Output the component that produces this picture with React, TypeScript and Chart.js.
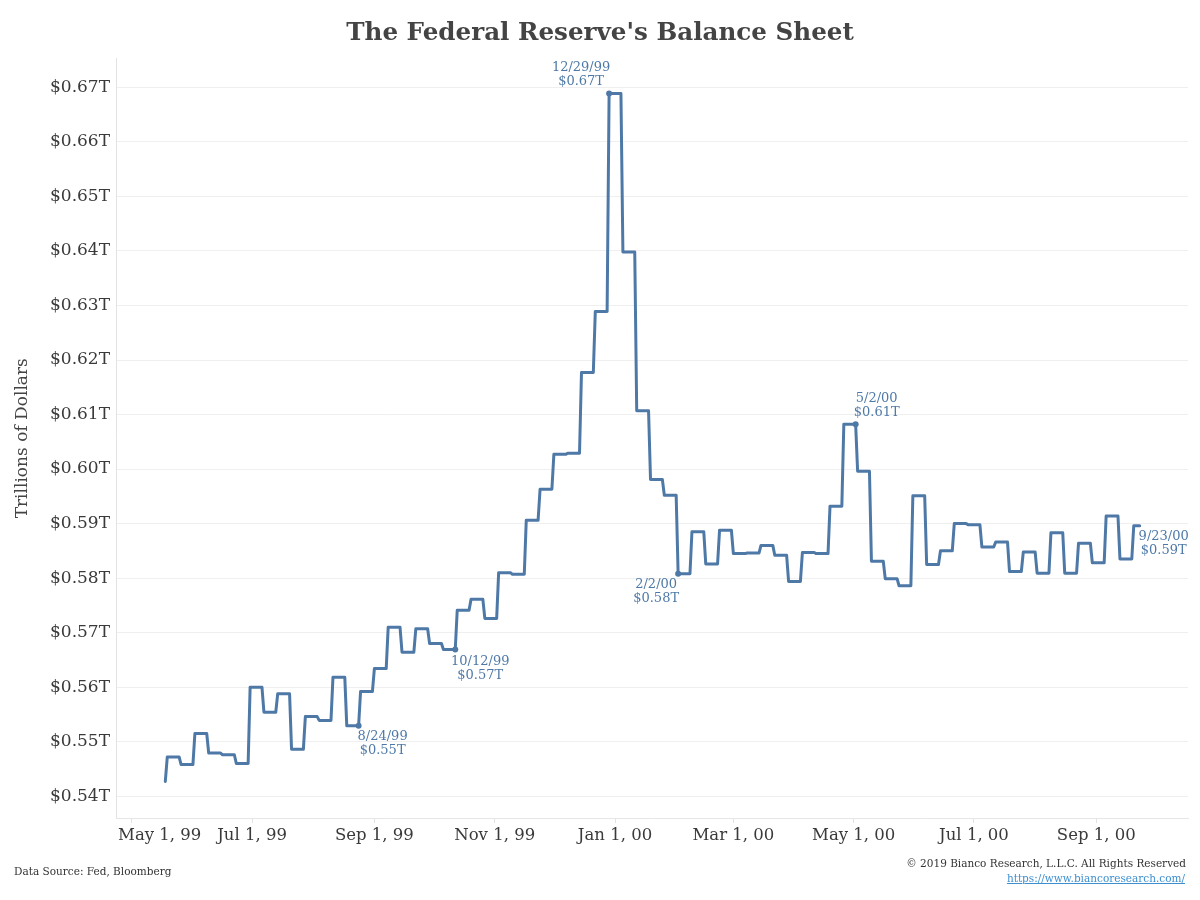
import React, { useEffect, useRef } from "react";
import { Chart, registerables } from "chart.js";

Chart.register(...registerables);

// ---- Data (weekly Fed balance sheet levels, trillions of dollars) ----
// first entry is a single day (Tue), then each value holds Wed..Tue
const weekStarts = [
  "1999-05-18",
  "1999-05-19", "1999-05-26",
  "1999-06-02", "1999-06-09", "1999-06-16", "1999-06-23", "1999-06-30",
  "1999-07-07", "1999-07-14", "1999-07-21", "1999-07-28",
  "1999-08-04", "1999-08-11", "1999-08-18", "1999-08-25",
  "1999-09-01", "1999-09-08", "1999-09-15", "1999-09-22", "1999-09-29",
  "1999-10-06", "1999-10-13", "1999-10-20", "1999-10-27",
  "1999-11-03", "1999-11-10", "1999-11-17", "1999-11-24",
  "1999-12-01", "1999-12-08", "1999-12-15", "1999-12-22", "1999-12-29",
  "2000-01-05", "2000-01-12", "2000-01-19", "2000-01-26",
  "2000-02-02", "2000-02-09", "2000-02-16", "2000-02-23",
  "2000-03-01", "2000-03-08", "2000-03-15", "2000-03-22", "2000-03-29",
  "2000-04-05", "2000-04-12", "2000-04-19", "2000-04-26",
  "2000-05-03", "2000-05-10", "2000-05-17", "2000-05-24", "2000-05-31",
  "2000-06-07", "2000-06-14", "2000-06-21", "2000-06-28",
  "2000-07-05", "2000-07-12", "2000-07-19", "2000-07-26",
  "2000-08-02", "2000-08-09", "2000-08-16", "2000-08-23", "2000-08-30",
  "2000-09-06", "2000-09-13", "2000-09-20",
];
const balance = [
  0.5427,
  0.5472, 0.5458,
  0.5515, 0.5479, 0.5476, 0.5460, 0.5600,
  0.5554, 0.5588, 0.5486, 0.5546,
  0.5539, 0.5618, 0.5529, 0.5592,
  0.5634, 0.5710, 0.5664, 0.5707, 0.5680,
  0.5669, 0.5741, 0.5761, 0.5726,
  0.5810, 0.5807, 0.5906, 0.5963,
  0.6027, 0.6029, 0.6177, 0.6289, 0.6689,
  0.6398, 0.6107, 0.5981, 0.5952,
  0.5808, 0.5885, 0.5826, 0.5888,
  0.5845, 0.5846, 0.5860, 0.5842, 0.5794,
  0.5847, 0.5845, 0.5932, 0.6082,
  0.5996, 0.5831, 0.5799, 0.5786, 0.5951,
  0.5825, 0.5850, 0.5900, 0.5898,
  0.5857, 0.5866, 0.5812, 0.5848,
  0.5809, 0.5883, 0.5809, 0.5864, 0.5828,
  0.5914, 0.5835, 0.5896,
];
const lastDate = "2000-09-23";

const xTickDates = [
  "1999-05-01", "1999-07-01", "1999-09-01", "1999-11-01", "2000-01-01",
  "2000-03-01", "2000-05-01", "2000-07-01", "2000-09-01",
];
const xTickLabels = [
  "May 1, 99", "Jul 1, 99", "Sep 1, 99", "Nov 1, 99", "Jan 1, 00",
  "Mar 1, 00", "May 1, 00", "Jul 1, 00", "Sep 1, 00",
];
const yTickValues = [0.54, 0.55, 0.56, 0.57, 0.58, 0.59, 0.6, 0.61, 0.62, 0.63, 0.64, 0.65, 0.66, 0.67];

const annotationDates = ["1999-08-24", "1999-10-12", "1999-12-29", "2000-02-02", "2000-05-02", "2000-09-23"];
const annotationDateLabels = ["8/24/99", "10/12/99", "12/29/99", "2/2/00", "5/2/00", "9/23/00"];

// ---- Styling / layout (not data) ----
const annotationLayout = [
  { dx: 24, dy: [11, 25], dot: true },
  { dx: 25, dy: [12, 26], dot: true },
  { dx: -28, dy: [-26, -12], dot: true },
  { dx: -22, dy: [11, 25], dot: true },
  { dx: 21, dy: [-26, -12], dot: true },
  { dx: 24, dy: [11, 25], dot: false },
];
const FONT = "'DejaVu Serif', Georgia, serif";
const LINE_COLOR = "#4e79a7";

const DAY = 86400000;
const EPOCH = Date.UTC(2000, 0, 1);
function dayNum(s: string): number {
  const [y, m, d] = s.split("-").map(Number);
  return (Date.UTC(y, m - 1, d) - EPOCH) / DAY;
}

const starts = weekStarts.map(dayNum);
const lastDay = dayNum(lastDate);

function buildLinePoints() {
  const pts: { x: number; y: number }[] = [];
  starts.forEach((s, i) => {
    const end = i < starts.length - 1 ? starts[i + 1] - 1 : lastDay;
    pts.push({ x: s, y: balance[i] });
    if (end > s) pts.push({ x: end, y: balance[i] });
  });
  return pts;
}

function valueAt(day: number): number {
  let idx = 0;
  for (let i = 0; i < starts.length; i++) if (starts[i] <= day) idx = i;
  return balance[idx];
}

const annotationPoints = annotationDates.map((d) => ({ x: dayNum(d), y: valueAt(dayNum(d)) }));

const labelPlugin = {
  id: "customLabels",
  afterDatasetsDraw(chart: any) {
    const ctx = chart.ctx;
    const xs = chart.scales.x;
    const ys = chart.scales.y;
    const area = chart.chartArea;
    ctx.save();
    // x-axis labels
    ctx.font = `16.5px ${FONT}`;
    ctx.fillStyle = "#3a3a3a";
    ctx.textBaseline = "middle";
    ctx.textAlign = "left";
    xTickDates.forEach((d, i) => {
      const px = xs.getPixelForValue(dayNum(d));
      const w = ctx.measureText(xTickLabels[i]).width;
      let left = px - w / 2;
      if (left < area.left + 2) left = area.left + 2;
      ctx.fillText(xTickLabels[i], left, area.bottom + 18);
    });
    // annotations
    ctx.font = `13px ${FONT}`;
    ctx.fillStyle = "#4e79a7";
    ctx.textAlign = "center";
    annotationPoints.forEach((p, i) => {
      const px = xs.getPixelForValue(p.x);
      const py = ys.getPixelForValue(p.y);
      const lay = annotationLayout[i];
      ctx.fillText(annotationDateLabels[i], px + lay.dx, py + lay.dy[0]);
      ctx.fillText("$" + p.y.toFixed(2) + "T", px + lay.dx, py + lay.dy[1]);
    });
    ctx.restore();
  },
};

export default function App() {
  const canvasRef = useRef<HTMLCanvasElement | null>(null);

  useEffect(() => {
    document.body.style.margin = "0";
    const canvas = canvasRef.current;
    if (!canvas) return;
    const chart = new Chart(canvas, {
      type: "line",
      data: {
        datasets: [
          {
            data: buildLinePoints(),
            borderColor: LINE_COLOR,
            borderWidth: 3,
            pointRadius: 0,
            tension: 0,
            borderJoinStyle: "round",
            borderCapStyle: "round",
            fill: false,
          },
          {
            data: annotationPoints.filter((_, i) => annotationLayout[i].dot),
            showLine: false,
            pointRadius: 3,
            pointBackgroundColor: LINE_COLOR,
            pointBorderWidth: 0,
          },
        ],
      } as any,
      options: {
        animation: false,
        responsive: false,
        maintainAspectRatio: false,
        devicePixelRatio: 1,
        layout: { padding: { left: 12, right: 12, top: 0, bottom: 0 } },
        plugins: {
          legend: { display: false },
          tooltip: { enabled: false },
          title: {
            display: true,
            text: "The Federal Reserve's Balance Sheet",
            color: "#444444",
            font: { family: FONT, size: 24.6, weight: "bold" },
            padding: { top: 19, bottom: 10 },
          },
        },
        scales: {
          x: {
            type: "linear",
            min: -253,
            max: 290.5,
            afterBuildTicks: (s: any) => {
              s.ticks = xTickDates.map((d) => ({ value: dayNum(d) }));
            },
            afterFit: (s: any) => {
              s.height = 82;
            },
            ticks: { display: false },
            grid: { drawOnChartArea: false, drawTicks: true, tickLength: 5, color: "#e3e3e3" },
            border: { color: "#e6e6e6" },
          },
          y: {
            type: "linear",
            min: 0.536,
            max: 0.6753,
            afterBuildTicks: (s: any) => {
              s.ticks = yTickValues.map((v) => ({ value: v }));
            },
            afterFit: (s: any) => {
              s.width = 104;
            },
            ticks: {
              callback: (v: any) => "$" + Number(v).toFixed(2) + "T",
              color: "#3a3a3a",
              font: { family: FONT, size: 17 },
              padding: 6,
            },
            grid: { color: "#efefef", drawTicks: false },
            border: { color: "#e3e3e3" },
            title: {
              display: true,
              text: "Trillions of Dollars",
              color: "#444444",
              font: { family: FONT, size: 17 },
              padding: { top: 0, bottom: 0 },
            },
          },
        },
      } as any,
      plugins: [labelPlugin],
    });
    return () => chart.destroy();
  }, []);

  return (
    <div style={{ position: "relative", width: 1200, height: 900 }}>
      <canvas ref={canvasRef} width={1200} height={900} style={{ display: "block" }} />
      <div
        style={{
          position: "absolute",
          left: 14,
          top: 864,
          font: `10.5px ${FONT}`,
          lineHeight: "14px",
          color: "#333",
          whiteSpace: "nowrap",
        }}
      >
        Data Source: Fed, Bloomberg
      </div>
      <div
        style={{
          position: "absolute",
          right: 14,
          top: 856,
          font: `10.5px ${FONT}`,
          lineHeight: "14px",
          color: "#333",
          textAlign: "right",
          whiteSpace: "nowrap",
        }}
      >
        © 2019 Bianco Research, L.L.C. All Rights Reserved
      </div>
      <div
        style={{
          position: "absolute",
          right: 15,
          top: 871,
          font: `10.5px ${FONT}`,
          lineHeight: "14px",
          textAlign: "right",
          whiteSpace: "nowrap",
        }}
      >
        <a href="https://www.biancoresearch.com/" style={{ color: "#3d8fcf", textDecoration: "underline" }}>
          https://www.biancoresearch.com/
        </a>
      </div>
    </div>
  );
}
